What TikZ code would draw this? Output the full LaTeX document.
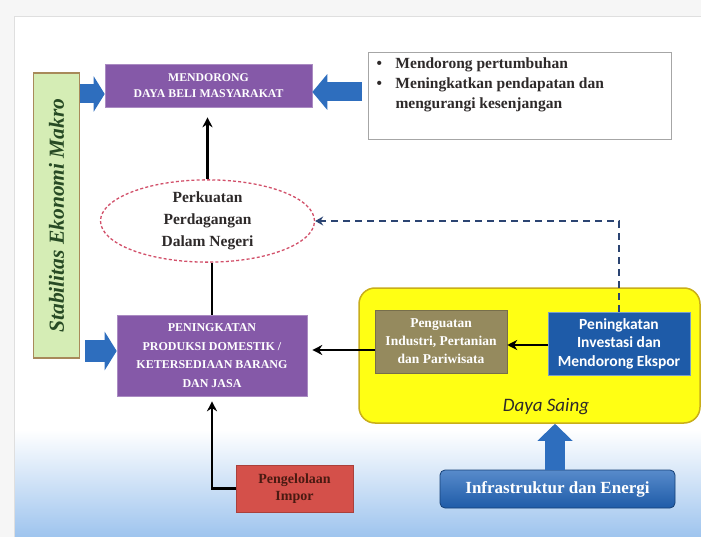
\documentclass[tikz,border=0pt]{standalone}
\usepackage{fontspec}
\setmainfont{Liberation Serif}
\newfontfamily\carlito{Carlito}
\usetikzlibrary{shapes.geometric,arrows.meta,calc}
\definecolor{purp}{HTML}{8559A8}
\definecolor{arrowblue}{HTML}{2E6EBE}
\definecolor{greenbar}{HTML}{D5EDB5}
\definecolor{greenedge}{HTML}{A88A5A}
\definecolor{imppred}{HTML}{D4504A}
\definecolor{olive}{HTML}{958A5E}
\definecolor{invblue}{HTML}{1E5BA8}
\definecolor{ysaing}{HTML}{FFFF14}
\definecolor{yedge}{HTML}{C9AE1A}
\definecolor{dashblue}{HTML}{2B4472}
\definecolor{ellred}{HTML}{D2506A}
\definecolor{bgblue}{HTML}{9EC4EE}
\definecolor{txtdark}{HTML}{2E2A2A}
\definecolor{imptxt}{HTML}{4A1A12}
\tikzset{
  purpbox/.style={draw=purp!70!white, line width=0.6pt, fill=purp, text=white, font=\bfseries, align=center, inner sep=2pt},
  blockarr/.style={draw=arrowblue, fill=arrowblue, line width=#1},
  blackarr/.style={line width=2.2pt, -{Stealth[length=10pt,width=10pt]}},
}
\begin{document}
\begin{tikzpicture}[x=1pt,y=-1pt]
\useasboundingbox (0,0) rectangle (701,537);
% background
\fill[gray!7] (0,0) rectangle (701,537);
\fill[white] (14,17) rectangle (701,537);
\shade[top color=white, bottom color=bgblue] (14,430) rectangle (701,537);
\draw[gray!25, line width=1pt] (14,537) -- (14,17) -- (701,17);

% green bar
\node[draw=greenedge, line width=1.2pt, fill=greenbar, minimum width=46pt, minimum height=285pt, inner sep=0pt] (green) at (56.5,215.5) {};
\node[rotate=90, font=\fontsize{21.5}{23}\selectfont\bfseries\itshape, text=txtdark!85!green] (greentxt) at (green.center) {Stabilitas Ekonomi Makro};

% top purple box
\node[purpbox, minimum width=207pt, minimum height=43pt, font=\fontsize{11.8}{15.5}\selectfont\bfseries] (top) at (208.5,85.5) {MENDORONG\\DAYA BELI MASYARAKAT};

% note box
\node[draw=gray!70, line width=1pt, fill=white, anchor=north west, inner sep=0pt] (note) at (368,52)
{\begin{minipage}[t][87pt][t]{303pt}\vspace{5pt}\fontsize{15.5}{20}\selectfont\bfseries\color{txtdark}%
\hspace*{8pt}\makebox[19pt][l]{\textbullet}Mendorong pertumbuhan\\
\hspace*{8pt}\makebox[19pt][l]{\textbullet}Meningkatkan pendapatan dan\\
\hspace*{27pt}mengurangi kesenjangan\end{minipage}};

% ellipse
\node[ellipse, draw=ellred, dashed, dash pattern=on 3pt off 2.2pt, line width=1.3pt, fill=white, minimum width=214pt, minimum height=82pt, align=center, font=\fontsize{15.5}{22}\selectfont\bfseries, text=txtdark, inner sep=0pt] (ell) at (207.5,221) {Perkuatan\\Perdagangan\\Dalam Negeri};

% middle purple box
\node[purpbox, minimum width=190pt, minimum height=81pt, font=\fontsize{12}{18.5}\selectfont\bfseries] (mid) at (212,355.5) {PENINGKATAN\\PRODUKSI DOMESTIK /\\KETERSEDIAAN  BARANG\\DAN JASA};

% impor box
\node[draw=imppred!80!black, line width=0.6pt, fill=imppred, minimum width=117pt, minimum height=47pt, align=center, font=\fontsize{14}{17}\selectfont\bfseries, text=imptxt] (imp) at (294.5,488.5) {Pengelolaan\\Impor};

% yellow daya saing
\node[draw=yedge, line width=1.5pt, fill=ysaing, rounded corners=16pt, minimum width=341pt, minimum height=135pt] (ys) at (529.5,355.5) {};
\node[draw=olive!80!black, line width=0.5pt, fill=olive, minimum width=132pt, minimum height=63pt, align=center, text=white, font=\fontsize{13.5}{18}\selectfont\bfseries, inner sep=1pt] (pen) at (441,341.5) {Penguatan\\Industri, Pertanian\\dan Pariwisata};
\node[draw=invblue!60!white, line width=0.8pt, fill=invblue, minimum width=142pt, minimum height=63pt, align=center, text=white, font=\carlito\fontsize{15.5}{18.5}\selectfont\bfseries, inner sep=1pt] (inv) at (619,343.5) {Peningkatan\\Investasi dan\\Mendorong Ekspor};
\node[font=\carlito\fontsize{19}{20}\selectfont\itshape, text=txtdark] (daya) at (546,407) {Daya Saing};

% infrastruktur
\node[draw=invblue!70!black, line width=0.8pt, rounded corners=5pt, top color=arrowblue!80!white, bottom color=invblue, minimum width=235pt, minimum height=38pt, text=white, font=\fontsize{17}{19}\selectfont\bfseries] (infra) at (557.5,489) {Infrastruktur dan Energi};

% block arrows
\coordinate (a1s) at (green.east |- 0,94);
\coordinate (a1e) at (top.west |- 0,94);
\draw[blockarr=19pt, -{Triangle[length=11pt,width=35pt]}] (a1s) -- (a1e);
\coordinate (a2s) at (note.west |- 0,92);
\coordinate (a2e) at (top.east |- 0,92);
\draw[blockarr=19pt, -{Triangle[length=15pt,width=35pt]}] ($(a2s)+(-6,0)$) -- (a2e);
\coordinate (a3s) at (85,351);
\coordinate (a3e) at (mid.west |- 0,351);
\draw[blockarr=22pt, -{Triangle[length=12pt,width=38pt]}] (a3s) -- (a3e);
\coordinate (a4s) at (infra.north -| 555,0);
\coordinate (a4e) at (ys.south -| 555,0);
\draw[blockarr=20pt, -{Triangle[length=17pt,width=34pt]}] (a4s) -- (a4e);

% black connectors
\draw[blackarr, shorten >=10pt] (ell.north) -- (ell.north |- top.south);
\draw[line width=2.2pt] (ell.south -| mid.north) -- (mid.north);
\draw[blackarr, shorten >=5pt] (pen.west |- 0,350) -- (mid.east |- 0,350);
\draw[blackarr] (inv.west |- 0,345) -- (pen.east |- 0,345);
\draw[blackarr, shorten >=5pt] (imp.west) -| (mid.south);

% dashed feedback
\draw[dashblue, line width=2pt, dash pattern=on 7pt off 5pt, -{Stealth[length=8pt,width=9pt]}] (inv.north) -- (inv.north |- ell.east) -- (ell.east);
\end{tikzpicture}
\end{document}
